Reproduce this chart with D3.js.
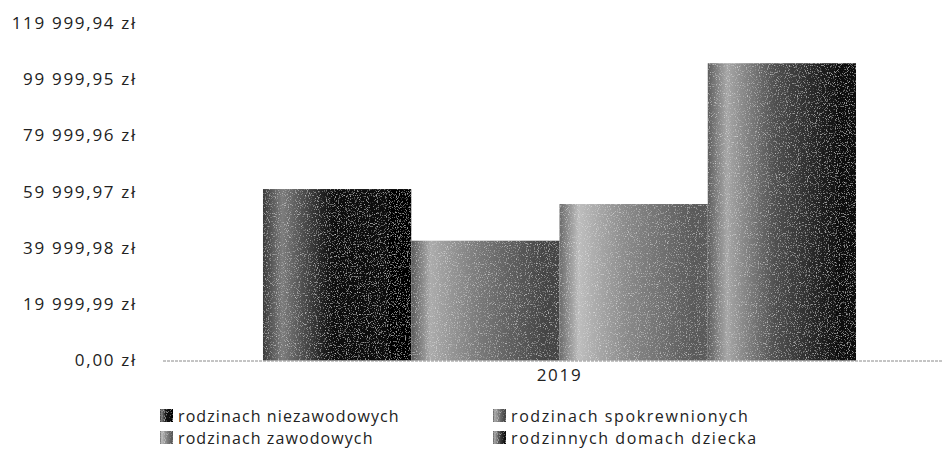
<!DOCTYPE html>
<html>
<head>
<meta charset="utf-8">
<script src="https://cdn.jsdelivr.net/npm/d3@7"></script>
<style>
	body { margin: 0; background: #fff; }
	svg { display: block; font-family: "Open Sans", "Noto Sans", sans-serif; }
</style>
</head>
<body>
<div id="chart"></div>
<script>
const years = ['2019'];
const seriesNames = ['rodzinach niezawodowych', 'rodzinach spokrewnionych', 'rodzinach zawodowych', 'rodzinnych domach dziecka'];
const seriesValues = [60900, 42560, 55580, 105600];
const tickValues = [0, 19999.99, 39999.98, 59999.97, 79999.96, 99999.95, 119999.94];

// grey shades of the scanned bars: [edge, highlight, mid, dark]
const shades = [
	['#3a3a3a', '#7c7c7c', '#121212', '#050505'],
	['#5a5a5a', '#ababab', '#7a7a7a', '#454545'],
	['#6a6a6a', '#bdbdbd', '#8a8a8a', '#5a5a5a'],
	['#5e5e5e', '#a6a6a6', '#505050', '#0c0c0c']
];

const width = 943, height = 456;
const plot = { left: 163, right: 956, top: 22.7, bottom: 360.5 };

const pl = d3.formatLocale({ decimal: ',', thousands: '\u00a0', grouping: [3], currency: ['', ' zł'] });
const fmt = v => pl.format(',.2f')(v).replace(/\u00a0/g, ' ') + ' zł';

const svg = d3.select('#chart').append('svg')
	.attr('width', width)
	.attr('height', height);

const defs = svg.append('defs');
shades.forEach((s, i) => {
	const g = defs.append('linearGradient')
		.attr('id', 'grad' + i)
		.attr('x1', '0%').attr('x2', '100%').attr('y1', '0%').attr('y2', '0%');
	g.append('stop').attr('offset', '0%').attr('stop-color', s[0]);
	g.append('stop').attr('offset', '13%').attr('stop-color', s[1]);
	g.append('stop').attr('offset', '45%').attr('stop-color', s[2]);
	g.append('stop').attr('offset', '90%').attr('stop-color', s[3]);
	g.append('stop').attr('offset', '100%').attr('stop-color', s[3]);
});

// scanned grain
const f = defs.append('filter').attr('id', 'grain').attr('x', 0).attr('y', 0).attr('width', 1).attr('height', 1);
f.append('feTurbulence').attr('type', 'fractalNoise').attr('baseFrequency', 0.9).attr('numOctaves', 2).attr('seed', 3).attr('result', 'n');
f.append('feColorMatrix').attr('in', 'n').attr('type', 'matrix')
	.attr('values', '0 0 0 0 1  0 0 0 0 1  0 0 0 0 1  1.6 0 0 0 -0.9').attr('result', 'w');
f.append('feComposite').attr('in', 'w').attr('in2', 'SourceGraphic').attr('operator', 'in').attr('result', 'wc');
f.append('feMerge').call(m => {
	m.append('feMergeNode').attr('in', 'SourceGraphic');
	m.append('feMergeNode').attr('in', 'wc');
});

const y = d3.scaleLinear()
	.domain([0, tickValues[tickValues.length - 1]])
	.range([plot.bottom, plot.top]);

const x0 = d3.scaleBand()
	.domain(years)
	.range([plot.left, plot.right])
	.paddingOuter(0.1686);

const x1 = d3.scaleBand()
	.domain(seriesNames)
	.range([0, x0.bandwidth()]);

// y axis labels
const yAxis = svg.append('g')
	.attr('transform', 'translate(137,0)')
	.call(d3.axisLeft(y).tickValues(tickValues).tickFormat(fmt).tickSize(0).tickPadding(0));
yAxis.select('.domain').remove();
yAxis.selectAll('text')
	.attr('font-size', 17)
	.attr('letter-spacing', 1.7)
	.attr('fill', '#222')
	.attr('font-family', '"Open Sans", "Noto Sans", sans-serif');

// bars
const group = svg.append('g')
	.selectAll('g')
	.data(years)
	.join('g')
	.attr('transform', d => `translate(${x0(d)},0)`);

group.selectAll('rect')
	.data(seriesValues.map((v, i) => ({ name: seriesNames[i], value: v, i: i })))
	.join('rect')
	.attr('x', d => x1(d.name))
	.attr('y', d => y(d.value))
	.attr('width', x1.bandwidth())
	.attr('height', d => y(0) - y(d.value))
	.attr('fill', d => 'url(#grad' + d.i + ')')
	.attr('filter', 'url(#grain)');

// x axis
const xAxis = svg.append('g')
	.attr('transform', `translate(0,${plot.bottom})`)
	.call(d3.axisBottom(x0).tickSize(0).tickPadding(8));
xAxis.select('.domain')
	.attr('d', `M${plot.left},0.5H${width}`)
	.attr('stroke', '#8a8a8a')
	.attr('stroke-dasharray', '3,1');
xAxis.selectAll('text')
	.attr('font-size', 17)
	.attr('letter-spacing', 1.7)
	.attr('fill', '#222')
	.attr('font-family', '"Open Sans", "Noto Sans", sans-serif');

// legend, two columns (right one is a bit wider in the scan)
const legendPos = [[160, 409], [493, 409], [160, 431], [493, 431]];
const legend = svg.append('g')
	.selectAll('g')
	.data(seriesNames)
	.join('g')
	.attr('transform', (d, i) => `translate(${legendPos[i][0]},${legendPos[i][1]})`);

legend.append('rect')
	.attr('width', 13)
	.attr('height', 13)
	.attr('fill', (d, i) => 'url(#grad' + i + ')')
	.attr('filter', 'url(#grain)');

legend.append('text')
	.attr('x', 18)
	.attr('y', 13)
	.attr('font-size', 16)
	.attr('letter-spacing', (d, i) => i % 2 ? 1.6 : 1.1)
	.attr('fill', '#222')
	.text(d => d);
</script>
</body>
</html>
